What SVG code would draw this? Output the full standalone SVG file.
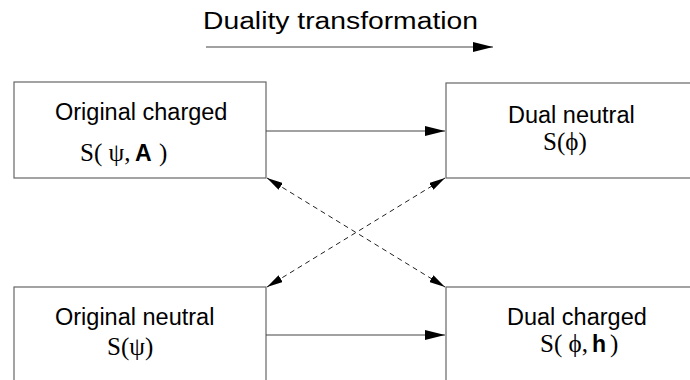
<svg xmlns="http://www.w3.org/2000/svg" width="690" height="380" viewBox="0 0 690 380">
<defs>
<marker id="ah" viewBox="0 0 20 10" refX="20" refY="5" markerWidth="20" markerHeight="10" markerUnits="userSpaceOnUse" orient="auto-start-reverse">
<path d="M0,0 L20,5 L0,10 Z" fill="#000"/>
</marker>
<marker id="ahs" viewBox="0 0 16 8" refX="16" refY="4" markerWidth="16" markerHeight="8" markerUnits="userSpaceOnUse" orient="auto-start-reverse">
<path d="M0,0 L16,4 L0,8 Z" fill="#000"/>
</marker>
</defs>
<style>
.box{fill:#fff;stroke:#666;stroke-width:1.2}
.lbl{font-family:"Liberation Sans",Arial,sans-serif;font-size:23.5px;fill:#000}
.m{font-family:"Liberation Serif","Times New Roman",serif;font-size:25px;fill:#000}
.b{font-family:"Liberation Sans",Arial,sans-serif;font-weight:bold;font-size:23px}
.ln{stroke:#444;stroke-width:1.2;fill:none}
.dash{stroke:#222;stroke-width:1;fill:none;stroke-dasharray:5,4}
</style>
<g id="title">
<text class="lbl" x="203" y="29" font-size="27" textLength="275" lengthAdjust="spacingAndGlyphs">Duality transformation</text>
</g>
<g id="node-orig-charged">
<rect class="box" x="14" y="82" width="252" height="96"/>
<text class="lbl" x="55" y="120">Original charged</text>
<text class="m" x="80" y="161">S( ψ,<tspan class="b" x="135">A</tspan><tspan x="159">)</tspan></text>
</g>
<g id="node-dual-neutral">
<rect class="box" x="446" y="83" width="260" height="95"/>
<text class="lbl" x="508" y="123">Dual neutral</text>
<text class="m" x="543" y="150">S(ϕ)</text>
</g>
<g id="node-orig-neutral">
<rect class="box" x="14" y="287" width="252" height="110"/>
<text class="lbl" x="55" y="325">Original neutral</text>
<text class="m" x="107" y="355">S(ψ)</text>
</g>
<g id="node-dual-charged">
<rect class="box" x="446" y="287" width="260" height="110"/>
<text class="lbl" x="507" y="325">Dual charged</text>
<text class="m" x="540" y="352">S( ϕ,<tspan class="b" x="592">h</tspan><tspan x="610">)</tspan></text>
</g>
<g id="connectors">
<line class="ln" x1="206" y1="47" x2="493" y2="47" marker-end="url(#ah)"/>
<line class="ln" x1="266" y1="131" x2="445" y2="131" marker-end="url(#ah)"/>
<line class="ln" x1="266" y1="335" x2="445" y2="335" marker-end="url(#ah)"/>
<line class="dash" x1="267" y1="178" x2="445" y2="287" marker-start="url(#ahs)" marker-end="url(#ahs)"/>
<line class="dash" x1="267" y1="287" x2="445" y2="178" marker-start="url(#ahs)" marker-end="url(#ahs)"/>
</g>
</svg>
